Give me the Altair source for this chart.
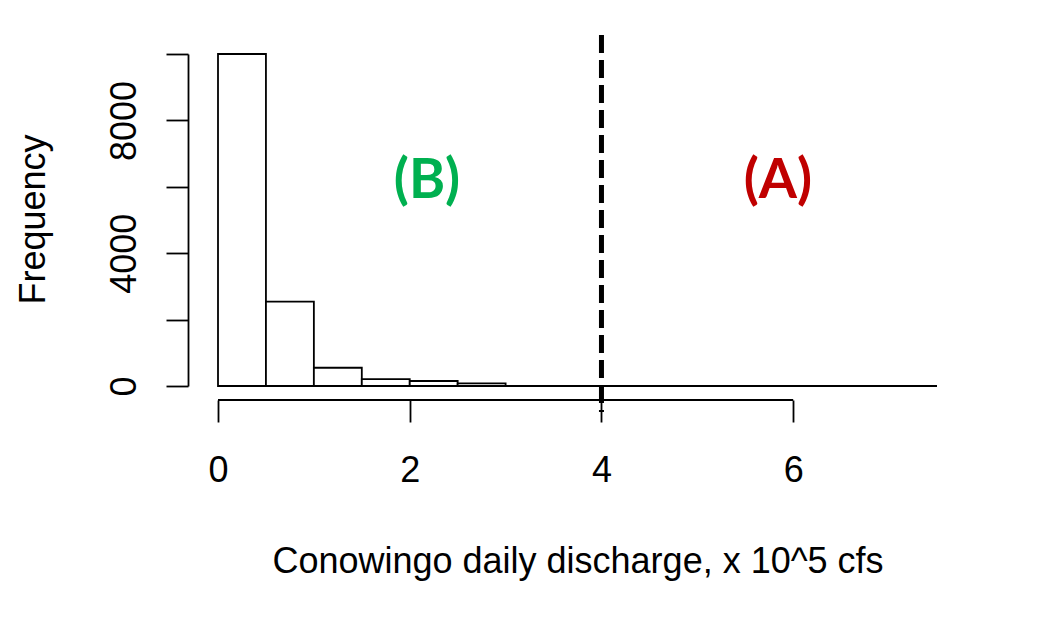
import altair as alt
import pandas as pd

# Histogram bins (x 10^5 cfs) and counts
bin_start = [0.0, 0.5, 1.0, 1.5, 2.0, 2.5, 3.0, 3.5, 4.0, 4.5, 5.0, 5.5, 6.0, 6.5, 7.0]
bin_end   = [0.5, 1.0, 1.5, 2.0, 2.5, 3.0, 3.5, 4.0, 4.5, 5.0, 5.5, 6.0, 6.5, 7.0, 7.5]
counts    = [10000, 2540, 550, 210, 150, 80, 0, 0, 0, 0, 0, 0, 0, 0, 0]

x_ticks = [0, 2, 4, 6]
y_ticks = [0, 2000, 4000, 6000, 8000, 10000]
threshold = [4]

ann_text = ["(B)", "(A)"]
ann_x = [2.18, 5.84]
ann_y = [5660, 5660]
ann_color = ["#00B050", "#C00000"]

hist = pd.DataFrame({"start": bin_start, "end": bin_end, "count": counts,
                     "zero": [0] * len(counts)})
axis_df = pd.DataFrame({"a": [x_ticks[0]], "b": [x_ticks[-1]]})
base_df = pd.DataFrame({"a": [bin_start[0]], "b": [bin_end[-1]], "z": [0]})
thr_df = pd.DataFrame({"t": threshold})
ann_df = pd.DataFrame({"label": ann_text, "x": ann_x, "y": ann_y, "c": ann_color})

FONT = "Liberation Sans"
W, H = 719, 332

xscale = alt.Scale(domain=[0, 7.5], nice=False, zero=False)
yscale = alt.Scale(domain=[0, 10000], nice=False)

bars = alt.Chart(hist).mark_rect(
    fill="white", stroke="black", strokeWidth=1.8, opacity=1
).encode(
    x=alt.X("start:Q", scale=xscale, axis=alt.Axis(
        values=x_ticks, format="d", domain=False, ticks=True, tickSize=22,
        tickWidth=1.8, tickColor="black", grid=False, offset=14,
        labelFont=FONT, labelFontSize=36, labelColor="black",
        labelBaseline="alphabetic", labelPadding=59, labelAngle=0,
        labelFlush=False, labelAlign="center",
        title="Conowingo daily discharge, x 10^5 cfs",
        titleFont=FONT, titleFontSize=36, titleFontWeight="normal",
        titleColor="black", titleBaseline="alphabetic", titleY=172,
    )),
    x2="end:Q",
    y=alt.Y("count:Q", scale=yscale, axis=alt.Axis(
        values=y_ticks, format="d",
        labelExpr="datum.value % 4000 == 0 ? datum.label : ''",
        domain=True, domainColor="black", domainWidth=1.8,
        ticks=True, tickSize=22, tickWidth=1.8, tickColor="black",
        grid=False, offset=30, labelFlush=False,
        labelFont=FONT, labelFontSize=36, labelColor="black",
        labelAngle=270, labelAlign="center", labelBaseline="alphabetic",
        labelPadding=31,
        title="Frequency", titleFont=FONT, titleFontSize=36,
        titleFontWeight="normal", titleColor="black",
        titleAngle=270, titleAlign="center", titleBaseline="alphabetic",
        titleX=-144, titleY=165,
    )),
    y2="zero:Q",
)

baseline = alt.Chart(base_df).mark_rule(color="black", strokeWidth=1.8).encode(
    x=alt.X("a:Q", scale=xscale), x2="b:Q", y=alt.Y("z:Q", scale=yscale)
)

xaxis_line = alt.Chart(axis_df).mark_rule(color="black", strokeWidth=1.8).encode(
    x=alt.X("a:Q", scale=xscale), x2="b:Q", y=alt.value(H + 14)
)

thr = alt.Chart(thr_df).mark_rule(
    color="black", strokeWidth=5, strokeDash=[18, 7]
).encode(
    x=alt.X("t:Q", scale=xscale), y=alt.value(-19), y2=alt.value(H + 26)
)

ann = alt.Chart(ann_df).mark_text(
    font="Lato", fontWeight="bold", fontSize=55, align="center",
    baseline="alphabetic"
).encode(
    x=alt.X("x:Q", scale=xscale),
    y=alt.Y("y:Q", scale=yscale),
    text="label:N",
    color=alt.Color("c:N", scale=None),
)

chart = alt.layer(bars, baseline, xaxis_line, thr, ann).properties(
    width=W, height=H,
    padding={"left": 210, "top": 46, "right": 95, "bottom": 220},
    autosize=alt.AutoSizeParams(type="none"),
    background="white",
).configure_view(stroke=None)

chart.save("out.html", embed_options={"renderer": "svg", "actions": False})
